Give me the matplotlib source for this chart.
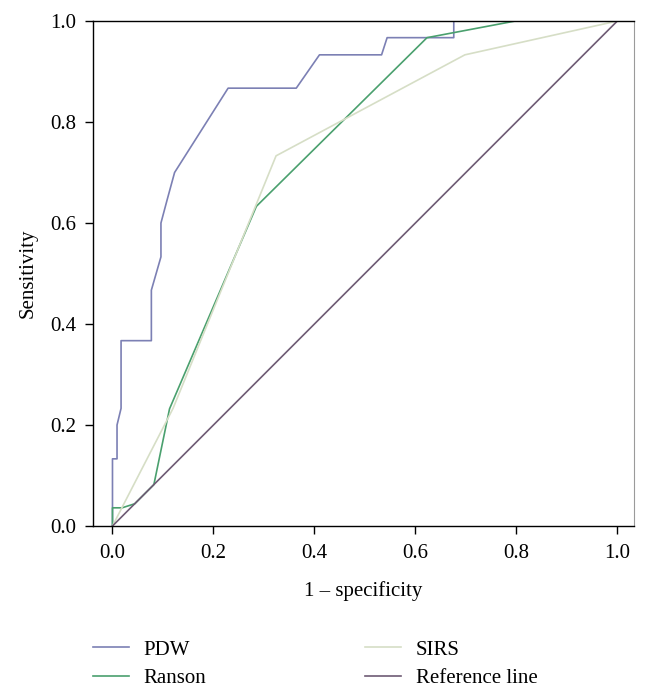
import matplotlib
matplotlib.use("Agg")
import matplotlib.pyplot as plt

plt.rcParams['font.family'] = ['Liberation Serif', 'DejaVu Serif']

# ROC data
pdw_fpr = [0.0, 0.0, 0.009, 0.009, 0.017, 0.017, 0.077, 0.077, 0.096, 0.096, 0.108, 0.123, 0.229, 0.364, 0.41, 0.533, 0.544, 0.676, 0.676, 1.0]
pdw_tpr = [0.0, 0.133, 0.133, 0.2, 0.233, 0.367, 0.367, 0.467, 0.533, 0.6, 0.645, 0.7, 0.867, 0.867, 0.933, 0.933, 0.967, 0.967, 1.0, 1.0]

ranson_fpr = [0.0, 0.0, 0.019, 0.044, 0.082, 0.113, 0.285, 0.623, 0.798, 1.0]
ranson_tpr = [0.0, 0.036, 0.036, 0.044, 0.082, 0.232, 0.633, 0.967, 1.0, 1.0]

sirs_fpr = [0.0, 0.12, 0.324, 0.698, 1.0]
sirs_tpr = [0.0, 0.233, 0.733, 0.933, 1.0]

ref_fpr = [0.0, 1.0]
ref_tpr = [0.0, 1.0]

labels = ["PDW", "Ranson", "SIRS", "Reference line"]
colors = ["#7c80b4", "#4aa06e", "#d6dec6", "#6e5b74"]

xticks = [0.0, 0.2, 0.4, 0.6, 0.8, 1.0]
yticks = [0.0, 0.2, 0.4, 0.6, 0.8, 1.0]

W, H = 649, 690
fig = plt.figure(figsize=(W / 100, H / 100), dpi=100)
l, r, t, b = 93.3, 634, 21, 526
ax = fig.add_axes([l / W, (H - b) / H, (r - l) / W, (b - t) / H])

lw = 1.2
h1, = ax.plot(pdw_fpr, pdw_tpr, color=colors[0], lw=lw)
h2, = ax.plot(ranson_fpr, ranson_tpr, color=colors[1], lw=lw)
h3, = ax.plot(sirs_fpr, sirs_tpr, color=colors[2], lw=lw)
h4, = ax.plot(ref_fpr, ref_tpr, color=colors[3], lw=lw)

ax.set_xlim(-0.038, 1.033)
ax.set_ylim(0, 1.0)
ax.set_xticks(xticks)
ax.set_yticks(yticks)
ax.set_xticklabels([f"{v:.1f}" for v in xticks])
ax.set_yticklabels([f"{v:.1f}" for v in yticks])
ax.tick_params(direction='out', length=6, width=1, labelsize=15, colors='black')
ax.tick_params(axis='x', pad=7)
ax.tick_params(axis='y', pad=6)
for s in ['top', 'left', 'bottom']:
    ax.spines[s].set_linewidth(1.0)
    ax.spines[s].set_color('black')
ax.spines['right'].set_linewidth(0.8)
ax.spines['right'].set_color('#9a9a9a')

ax.set_xlabel("1 \u2013 specificity", fontsize=15, labelpad=13)
ax.set_ylabel("Sensitivity", fontsize=15, labelpad=9)

leg_kw = dict(frameon=False, fontsize=15, handlelength=1.75, handletextpad=0.7,
              labelspacing=0.42, borderpad=0, borderaxespad=0, loc='upper left')
fig.legend([h1, h2], labels[:2], bbox_to_anchor=(92.5 / W, 1 - 640 / H), **leg_kw)
fig.legend([h3, h4], labels[2:], bbox_to_anchor=(364.6 / W, 1 - 640 / H), **leg_kw)

fig.savefig("out.png", dpi=100)
